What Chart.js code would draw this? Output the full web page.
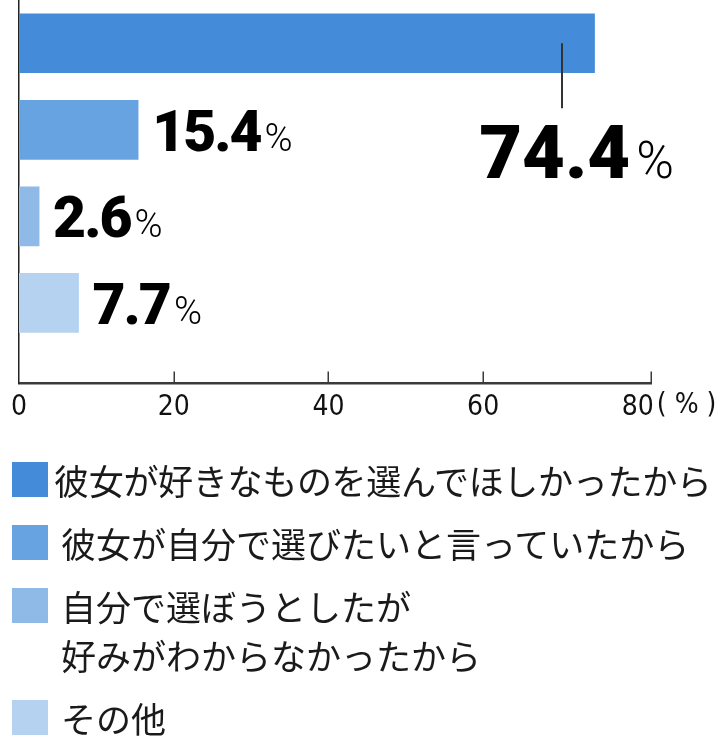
<!DOCTYPE html>
<html><head><meta charset="utf-8">
<script src="https://cdn.jsdelivr.net/npm/chart.js@4.4.1/dist/chart.umd.min.js"></script>
<style>
html,body{margin:0;padding:0;background:#fff;width:720px;height:748px;overflow:hidden;position:relative}
#c{position:absolute;left:0;top:0}
#legend{position:absolute;left:0;top:455px;font-family:'Noto Sans CJK JP','Noto Sans',sans-serif;font-size:35px;color:#1a1a1a}
.item{display:flex;align-items:flex-start;margin-bottom:14px}
.sw{width:36px;height:35px;margin-top:7px;margin-left:12px;flex:none}
.tx{line-height:49px;white-space:pre-line;margin-left:13px}
.item:first-child .tx{margin-left:6px;letter-spacing:-0.3px}
</style></head>
<body>
<canvas id="c" width="720" height="464"></canvas>
<div id="legend"></div>
<script>
const categories = ['彼女が好きなものを選んでほしかったから', '彼女が自分で選びたいと言っていたから', '自分で選ぼうとしたが\n好みがわからなかったから', 'その他'];
const values = [74.4, 15.4, 2.6, 7.7];
const colors = ['#448bd9', '#68a3e1', '#8fbae8', '#b5d2f1'];
const xTicks = [0, 20, 40, 60, 80];
const axisUnit = '( % )';

const legend = document.getElementById('legend');
categories.forEach((c, i) => {
  const it = document.createElement('div'); it.className = 'item';
  const sw = document.createElement('div'); sw.className = 'sw'; sw.style.background = colors[i];
  const tx = document.createElement('div'); tx.className = 'tx'; tx.textContent = c;
  it.appendChild(sw); it.appendChild(tx); legend.appendChild(it);
});

const tickFont = "'DejaVu Sans Condensed','Liberation Sans Narrow',Roboto,sans-serif";
const tickPad = 8;
const tickSize = 28;

const labelPlugin = {
  id: 'labels',
  afterDraw(chart) {
    const ctx = chart.ctx, xs = chart.scales.x, area = chart.chartArea;
    ctx.save();
    ctx.strokeStyle = '#3a3a3a'; ctx.lineWidth = 1.5;
    const tp = xTicks.filter(v => v > 0 && v < xTicks[xTicks.length - 1]).map(v => xs.getPixelForValue(v));
    tp.push(area.right);
    tp.forEach(x => { ctx.beginPath(); ctx.moveTo(Math.round(x) + 0.25, area.bottom); ctx.lineTo(Math.round(x) + 0.25, area.bottom - 12); ctx.stroke(); });
    ctx.fillStyle = '#111'; ctx.font = tickSize + 'px ' + tickFont; ctx.textBaseline = 'top'; ctx.textAlign = 'left';
    ctx.fillText(axisUnit, xs.getPixelForValue(xTicks[xTicks.length - 1]) + 19, area.bottom + tickPad);
    const meta = chart.getDatasetMeta(0);
    meta.data.forEach((bar, i) => {
      const num = values[i].toFixed(1);
      ctx.textAlign = 'left'; ctx.textBaseline = 'alphabetic'; ctx.fillStyle = '#000';
      ctx.letterSpacing = '-2px';
      ctx.font = '900 57px Roboto';
      const w1 = ctx.measureText(num).width;
      ctx.letterSpacing = '0px';
      ctx.font = '300 38px Roboto';
      const w2 = ctx.measureText('%').width;
      if (bar.x + 14 + w1 + 4 + w2 < area.right) {
        const x0 = bar.x + 14, base = bar.y + 21;
        ctx.letterSpacing = '-2px';
        ctx.font = '900 57px Roboto'; ctx.fillText(num, x0, base);
        ctx.letterSpacing = '0px';
        ctx.font = '300 38px Roboto'; ctx.fillText('%', x0 + w1 + 4, base);
      } else {
        ctx.strokeStyle = '#333'; ctx.lineWidth = 2;
        const lx = Math.round(bar.x - 33);
        ctx.beginPath(); ctx.moveTo(lx, bar.y); ctx.lineTo(lx, bar.y + 65); ctx.stroke();
        ctx.font = '900 74px Roboto';
        const b1 = ctx.measureText(num).width;
        ctx.font = '300 51px Roboto';
        const b2 = ctx.measureText('%').width;
        const total = b1 + 6 + b2;
        const x0 = bar.x - 18 - total / 2, base = bar.y + 134.5;
        ctx.font = '900 74px Roboto'; ctx.fillText(num, x0, base);
        ctx.font = '300 51px Roboto'; ctx.fillText('%', x0 + b1 + 6, base);
      }
    });
    ctx.restore();
  }
};

new Chart(document.getElementById('c'), {
  type: 'bar',
  data: {
    datasets: [{
      data: values.map((v, i) => ({ x: v, y: i })),
      backgroundColor: colors,
      borderWidth: 0,
      barThickness: 59,
      grouped: false
    }]
  },
  options: {
    indexAxis: 'y',
    responsive: false,
    animation: false,
    devicePixelRatio: 1,
    layout: { padding: { left: 19, right: 69, top: 0, bottom: 31 } },
    plugins: { legend: { display: false }, tooltip: { enabled: false } },
    scales: {
      x: {
        type: 'linear', min: 0, max: 81.7,
        afterBuildTicks: s => { s.ticks = xTicks.map(v => ({ value: v })); },
        grid: { display: false, drawTicks: false },
        border: { display: true, color: '#3a3a3a', width: 2.5 },
        ticks: { font: { family: tickFont, size: tickSize }, color: '#111', padding: tickPad, maxRotation: 0, autoSkip: false }
      },
      y: {
        type: 'linear', reverse: true, min: -0.5, max: 3.93, offset: false,
        grid: { display: false, drawTicks: false, offset: false },
        border: { display: true, color: '#222', width: 1.5 },
        ticks: { display: false }
      }
    }
  },
  plugins: [labelPlugin]
});
</script>
</body></html>
